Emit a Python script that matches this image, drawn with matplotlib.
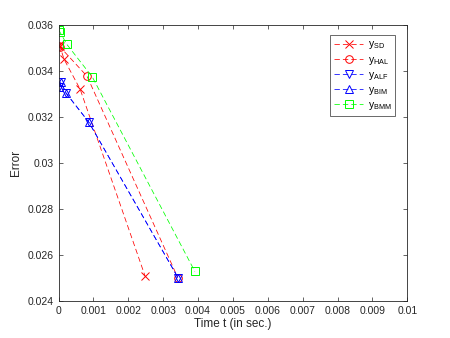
import matplotlib
matplotlib.use("Agg")
import matplotlib.pyplot as plt

plt.rcParams['font.family'] = ['Liberation Sans', 'DejaVu Sans']
plt.rcParams['mathtext.fontset'] = 'custom'
plt.rcParams['mathtext.rm'] = 'Liberation Sans'

t_sd = [0.00001, 0.00004, 0.00016, 0.00062, 0.00248]
e_sd = [0.03515, 0.03509, 0.03452, 0.03322, 0.02509]

t_hal = [0.00001, 0.00005, 0.00082, 0.00342]
e_hal = [0.03512, 0.03505, 0.03378, 0.02501]

t_alf = [0.00000, 0.00007, 0.00022, 0.00087, 0.00343]
e_alf = [0.03330, 0.03352, 0.03304, 0.03178, 0.02500]

t_bim = [0.00000, 0.00007, 0.00022, 0.00087, 0.00343]
e_bim = [0.03330, 0.03352, 0.03304, 0.03178, 0.02500]

t_bmm = [0.00001, 0.00004, 0.00024, 0.00097, 0.00391]
e_bmm = [0.03580, 0.03571, 0.03517, 0.03375, 0.02528]

labels = [r'$\mathregular{y_{SD}}$', r'$\mathregular{y_{HAL}}$', r'$\mathregular{y_{ALF}}$',
          r'$\mathregular{y_{BIM}}$', r'$\mathregular{y_{BMM}}$']

fig = plt.figure(figsize=(4.5, 3.38), dpi=100)
ax = fig.add_axes([0.13, 0.11, 0.775, 0.815])

kw = dict(linestyle=(0, (7, 4)), linewidth=0.55, markersize=5.5, markerfacecolor='none', markeredgewidth=0.7)
ax.plot(t_sd, e_sd, color='r', marker='x', label=labels[0], **kw)
ax.plot(t_hal, e_hal, color='r', marker='o', label=labels[1], **kw)
ax.plot(t_alf, e_alf, color='b', marker='v', label=labels[2], **kw)
ax.plot(t_bim, e_bim, color='b', marker='^', label=labels[3], **kw)
ax.plot(t_bmm, e_bmm, color='#00ff00', marker='s', label=labels[4], **kw)

ax.set_xlim(0, 0.01)
ax.set_ylim(0.024, 0.036)
xt = [0, 0.001, 0.002, 0.003, 0.004, 0.005, 0.006, 0.007, 0.008, 0.009, 0.01]
ax.set_xticks(xt)
ax.set_xticklabels(['0', '0.001', '0.002', '0.003', '0.004', '0.005', '0.006', '0.007', '0.008', '0.009', '0.01'])
yt = [0.024, 0.026, 0.028, 0.03, 0.032, 0.034, 0.036]
ax.set_yticks(yt)
ax.set_yticklabels(['0.024', '0.026', '0.028', '0.03', '0.032', '0.034', '0.036'])
ax.tick_params(direction='in', top=True, right=True, labelsize=7.5, colors='#262626', length=3, width=0.5)
for s in ax.spines.values():
    s.set_linewidth(0.6)
    s.set_color('#262626')
ax.set_xlabel('Time t (in sec.)', fontsize=8.5, color='#262626', labelpad=2)
ax.set_ylabel('Error', fontsize=8.5, color='#262626', labelpad=4)

leg = ax.legend(loc='upper right', bbox_to_anchor=(0.966, 0.964), fontsize=7.5, frameon=True, fancybox=False,
                handlelength=2.8, borderpad=0.4, labelspacing=0.3, handletextpad=0.4, borderaxespad=0)
leg.get_frame().set_edgecolor('#262626')
leg.get_frame().set_linewidth(0.6)

fig.savefig('out.png', dpi=100)
